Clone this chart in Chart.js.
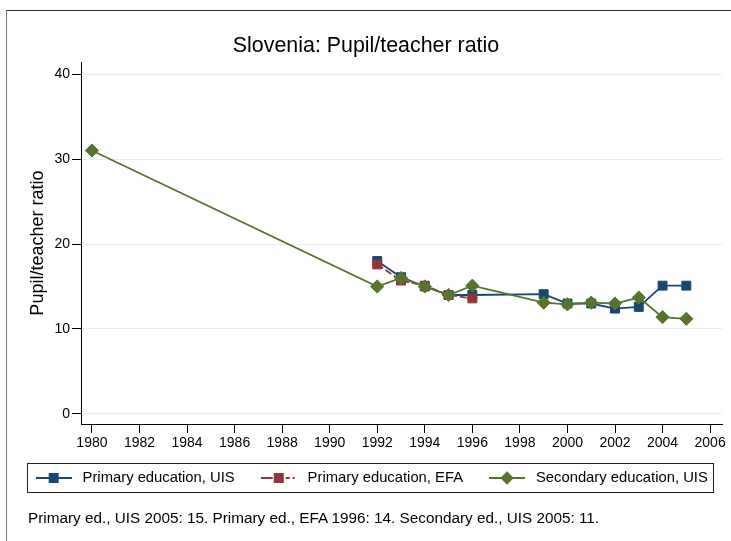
<!DOCTYPE html>
<html>
<head>
<meta charset="utf-8">
<script src="https://cdn.jsdelivr.net/npm/chart.js@4.4.0/dist/chart.umd.min.js"></script>
<style>
html,body{margin:0;padding:0;background:#fff;}
#wrap{position:relative;width:731px;height:541px;}
#note{position:absolute;left:28px;top:509px;font:15.3px "Liberation Sans",Arial,sans-serif;line-height:18px;color:#000;white-space:nowrap;}
</style>
</head>
<body>
<div id="wrap">
  <canvas id="chart" width="731" height="541"></canvas>
  <div id="note">Primary ed., UIS 2005: 15. Primary ed., EFA 1996: 14. Secondary ed., UIS 2005: 11.</div>
</div>
<script>
// tick labels
const xTicks = [1980,1982,1984,1986,1988,1990,1992,1994,1996,1998,2000,2002,2004,2006];
const yTicks = [0,10,20,30,40];

// series
const uisYears  = [1992,1993,1994,1995,1996,1999,2000,2001,2002,2003,2004,2005];
const uisValues = [18.0,16.1,15.0,14.0,14.0,14.1,13.0,13.0,12.4,12.6,15.1,15.1];
const efaYears  = [1992,1993,1994,1995,1996];
const efaValues = [17.6,15.7,15.1,14.0,13.6];
const secYears  = [1980,1992,1993,1994,1995,1996,1999,2000,2001,2002,2003,2004,2005];
const secValues = [31.0,15.0,16.0,15.0,14.0,15.1,13.1,12.9,13.1,13.0,13.7,11.4,11.2];

const FONT = "'Liberation Sans', Arial, sans-serif";
const colors = { blue:'#1a476f', red:'#90353b', green:'#55752f', grid:'#e6edf0' };

function pairs(xs, ys){ return xs.map((x,i)=>({x, y:ys[i]})); }

// small line+marker pictures for the legend keys
function legendKey(color, shape, dash){
  const c = document.createElement('canvas');
  c.width = 36; c.height = 16;
  const g = c.getContext('2d');
  g.strokeStyle = color; g.lineWidth = 2;
  g.setLineDash(dash || []);
  g.beginPath(); g.moveTo(0,8); g.lineTo(36,8); g.stroke();
  g.setLineDash([]);
  g.fillStyle = color;
  if(shape === 'square'){
    g.fillRect(13,3,10,10);
  } else {
    g.beginPath(); g.moveTo(18,1.3); g.lineTo(24.7,8); g.lineTo(18,14.7); g.lineTo(11.3,8); g.closePath(); g.fill();
  }
  return c;
}
const keys = [
  legendKey(colors.blue,'square'),
  legendKey(colors.red,'square',[12,13,4,3,2,10]),
  legendKey(colors.green,'diamond')
];

const decor = {
  id:'decor',
  afterLayout(chart){
    // nudge legend row and title a little to the right
    chart.legend.left += 9; chart.legend.right += 9;
    chart.titleBlock.left += 5; chart.titleBlock.right += 5;
  },
  beforeDraw(chart){
    const g = chart.ctx;
    g.save();
    g.fillStyle = '#fff'; g.fillRect(0,0,chart.width,chart.height);
    g.fillStyle = '#2a2a2a'; g.fillRect(6,10,chart.width-6,1);
    g.fillStyle = '#777'; g.fillRect(6,10,1,chart.height-10);
    g.restore();
  },
  afterDraw(chart){
    const hb = chart.legend.legendHitBoxes;
    if(!hb || !hb.length) return;
    const first = hb[0], last = hb[hb.length-1];
    const cy = first.top + first.height/2;
    const l = Math.round(first.left - 5.5) + 0.5;
    const r = Math.round(last.left + last.width + 5) + 0.5;
    const t = Math.round(cy - 15) + 0.5;
    const b = Math.round(cy + 14) + 0.5;
    const g = chart.ctx;
    g.save(); g.strokeStyle = '#222'; g.lineWidth = 1;
    g.strokeRect(l, t, r-l, b-t);
    g.restore();
  }
};

new Chart(document.getElementById('chart'), {
  type:'line',
  data:{
    datasets:[
      { label:'Primary education, UIS', data:pairs(uisYears,uisValues), borderColor:colors.blue, backgroundColor:colors.blue,
        borderWidth:1.8, pointStyle:'rect', pointRadius:6.3, pointBorderWidth:1, pointBorderColor:colors.blue, order:3 },
      { label:'Primary education, EFA', data:pairs(efaYears,efaValues), borderColor:colors.red, backgroundColor:colors.red,
        borderWidth:1.8, borderDash:[7,3], pointStyle:'rect', pointRadius:6.3, pointBorderWidth:1, pointBorderColor:colors.red, order:2 },
      { label:'Secondary education, UIS', data:pairs(secYears,secValues), borderColor:colors.green, backgroundColor:colors.green,
        borderWidth:1.8, pointStyle:'rectRot', pointRadius:6.6, pointBorderWidth:1, pointBorderColor:colors.green, order:1 }
    ]
  },
  options:{
    responsive:false, animation:false, events:[],
    layout:{ padding:{ left:0, right:9, top:0, bottom:45.6 } },
    plugins:{
      title:{ display:true, text:'Slovenia: Pupil/teacher ratio', color:'#000',
        font:{ family:FONT, size:21.4, weight:'normal' }, padding:{ top:33.2, bottom:3.3 } },
      legend:{ position:'bottom',
        labels:{ usePointStyle:true, pointStyleWidth:43, padding:22.5, color:'#000',
          font:{ family:FONT, size:14.8 },
          generateLabels:(chart)=>chart.data.datasets.map((ds,i)=>({
            text:ds.label, pointStyle:keys[i], fillStyle:'rgba(0,0,0,0)', strokeStyle:'rgba(0,0,0,0)',
            lineWidth:0, hidden:false, datasetIndex:i
          }))
        }
      },
      tooltip:{ enabled:false }
    },
    scales:{
      x:{ type:'linear', min:1979.54, max:2006.5,
        afterBuildTicks:(s)=>{ s.ticks = xTicks.map(v=>({value:v})); },
        afterFit:(s)=>{ s.height = 24.1; },
        grid:{ drawOnChartArea:false, tickLength:9, tickColor:'#000' },
        border:{ color:'#000', width:1 },
        ticks:{ color:'#000', padding:2, maxRotation:0, autoSkip:false, font:{ family:FONT, size:14 }, callback:(v)=>String(v) }
      },
      y:{ min:-1.18, max:41.4,
        afterBuildTicks:(s)=>{ s.ticks = yTicks.map(v=>({value:v})); },
        afterFit:(s)=>{ s.width = 81; },
        grid:{ color:colors.grid, tickLength:9, tickColor:'#000' },
        border:{ color:'#000', width:1 },
        ticks:{ color:'#000', padding:2, font:{ family:FONT, size:14 }, callback:(v)=>String(v) },
        title:{ display:true, text:'Pupil/teacher ratio', color:'#000', font:{ family:FONT, size:18 }, padding:{ top:27.2, bottom:0 } }
      }
    }
  },
  plugins:[decor]
});
</script>
</body>
</html>
